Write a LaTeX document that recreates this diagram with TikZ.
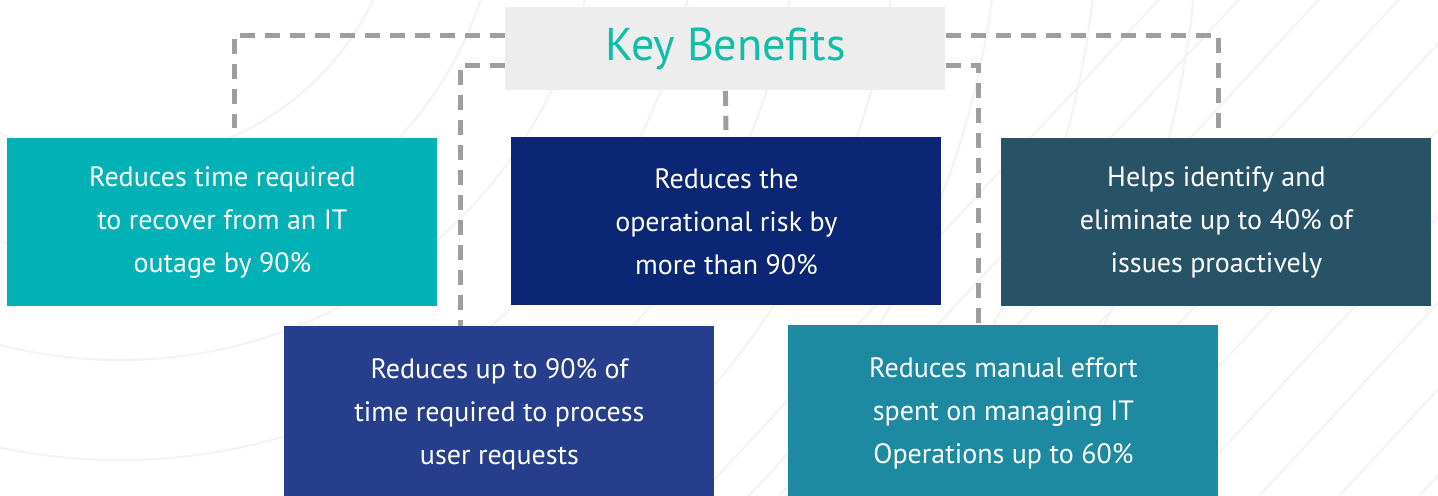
\documentclass[tikz,border=0pt]{standalone}
\usepackage{fontspec}
\setmainfont{PT Sans}
\usetikzlibrary{positioning}
\definecolor{TitleTeal}{HTML}{0DBFA6}
\definecolor{TitleFill}{HTML}{EDEDED}
\definecolor{LinkGray}{HTML}{9E9E9E}
\definecolor{BoxTeal}{HTML}{00B2B6}
\definecolor{BoxNavy}{HTML}{0B2674}
\definecolor{BoxSlate}{HTML}{285266}
\definecolor{BoxBlue}{HTML}{263E8C}
\definecolor{BoxSea}{HTML}{1E8AA1}
\definecolor{WaveGray}{HTML}{F3F3F3}

\begin{document}
\begin{tikzpicture}[x=0.5pt, y=-0.5pt,
    title/.style={rectangle, anchor=north west, fill=TitleFill, text=TitleTeal, minimum width=220pt, minimum height=41.5pt, inner sep=0pt, font=\fontsize{23}{27}\selectfont},
    benefit/.style={rectangle, anchor=north west, minimum width=215pt, minimum height=84pt, inner sep=0pt, align=center, text=white, font=\fontsize{14}{21.5}\selectfont},
    lower/.style={benefit, minimum height=88pt},
    link/.style={draw=LinkGray, line width=2.5pt, dash pattern=on 7.5pt off 5pt},
    wave/.style={draw=WaveGray, line width=1pt}
  ]
  \useasboundingbox[fill=white] (0,0) rectangle (1438,495);

  % faint background waves
  \begin{scope}
    \clip (0,0) rectangle (1438,495);
    \foreach \r in {280,380,...,1080}
      \draw[wave] (120,-120) circle (\r);
    \foreach \s in {700,780,...,1700}
      \draw[wave] (\s,495) -- ++(500,-540);
  \end{scope}

  \node[title] (title) at (505,7) {Key Benefits};

  \node[benefit, fill=BoxTeal] (recover) at (7,138) {Reduces time required\\to recover from an IT\\outage by 90\%};
  \node[benefit, fill=BoxNavy] (risk) at (511,137) {Reduces the\\operational risk by\\more than 90\%};
  \node[benefit, fill=BoxSlate] (issues) at (1001,138) {Helps identify and\\eliminate up to 40\% of\\issues proactively};
  \node[lower, fill=BoxBlue] (requests) at (284,326) {Reduces up to 90\% of\\time required to process\\user requests};
  \node[lower, fill=BoxSea] (effort) at (788,325) {Reduces manual effort\\spent on managing IT\\Operations up to 60\%};

  \coordinate (outerL) at (234,128);
  \coordinate (innerL) at (460,326);
  \coordinate (middle) at (726,130);
  \coordinate (innerR) at (978,325);
  \coordinate (outerR) at (1218,128);

  \draw[link] ([yshift=-14pt]title.north west) -| (outerL);
  \draw[link] ([yshift=-29pt]title.north west) -| (innerL);
  \draw[link] (title.south) -- (middle);
  \draw[link] ([yshift=-29pt]title.north east) -| (innerR);
  \draw[link] ([yshift=-14pt]title.north east) -| (outerR);
\end{tikzpicture}
\end{document}
